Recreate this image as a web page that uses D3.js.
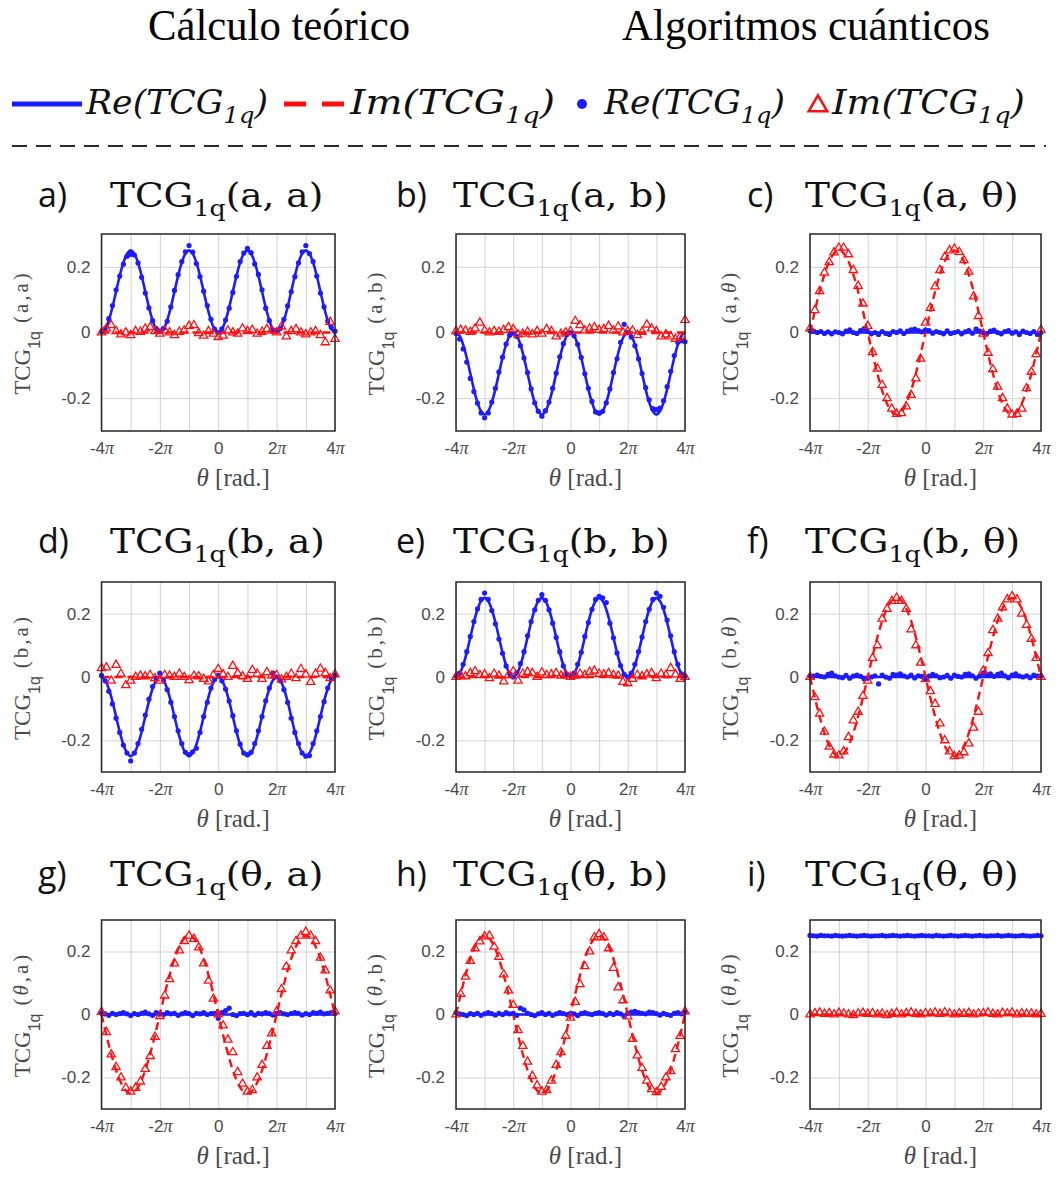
<!DOCTYPE html>
<html>
<head>
<meta charset="utf-8">
<script src="https://cdn.jsdelivr.net/npm/d3@7"></script>
<style>
  body { margin: 0; background: #fff; }
  svg { display: block; }
</style>
</head>
<body>
<svg id="chart" width="1060" height="1179"></svg>
<script>
// theta samples, in units of pi
const thetaFine = [-4, -3.875, -3.75, -3.625, -3.5, -3.375, -3.25, -3.125, -3, -2.875, -2.75, -2.625, -2.5,
  -2.375, -2.25, -2.125, -2, -1.875, -1.75, -1.625, -1.5, -1.375, -1.25, -1.125, -1, -0.875,
  -0.75, -0.625, -0.5, -0.375, -0.25, -0.125, 0, 0.125, 0.25, 0.375, 0.5, 0.625, 0.75,
  0.875, 1, 1.125, 1.25, 1.375, 1.5, 1.625, 1.75, 1.875, 2, 2.125, 2.25, 2.375, 2.5,
  2.625, 2.75, 2.875, 3, 3.125, 3.25, 3.375, 3.5, 3.625, 3.75, 3.875, 4]
const thetaCoarse = [-4, -3.833, -3.667, -3.5, -3.333, -3.167, -3, -2.833, -2.667, -2.5, -2.333, -2.167, -2,
  -1.833, -1.667, -1.5, -1.333, -1.167, -1, -0.833, -0.667, -0.5, -0.333, -0.167, 0,
  0.167, 0.333, 0.5, 0.667, 0.833, 1, 1.167, 1.333, 1.5, 1.667, 1.833, 2,
  2.167, 2.333, 2.5, 2.667, 2.833, 3, 3.167, 3.333, 3.5, 3.667, 3.833, 4]
const thetaEnds = [-4, 4]

const theoryHumpUp = [
  0, 0.01, 0.037, 0.077, 0.125, 0.173, 0.213, 0.24, 0.25, 0.24, 0.213, 0.173, 0.125, 0.077, 0.037, 0.01,
  0, 0.01, 0.037, 0.077, 0.125, 0.173, 0.213, 0.24, 0.25, 0.24, 0.213, 0.173, 0.125, 0.077, 0.037, 0.01,
  0, 0.01, 0.037, 0.077, 0.125, 0.173, 0.213, 0.24, 0.25, 0.24, 0.213, 0.173, 0.125, 0.077, 0.037, 0.01,
  0, 0.01, 0.037, 0.077, 0.125, 0.173, 0.213, 0.24, 0.25, 0.24, 0.213, 0.173, 0.125, 0.077, 0.037, 0.01,
  0]
const theoryHumpDown = [
  0, -0.01, -0.037, -0.077, -0.125, -0.173, -0.213, -0.24, -0.25, -0.24, -0.213, -0.173, -0.125, -0.077, -0.037, -0.01,
  0, -0.01, -0.037, -0.077, -0.125, -0.173, -0.213, -0.24, -0.25, -0.24, -0.213, -0.173, -0.125, -0.077, -0.037, -0.01,
  0, -0.01, -0.037, -0.077, -0.125, -0.173, -0.213, -0.24, -0.25, -0.24, -0.213, -0.173, -0.125, -0.077, -0.037, -0.01,
  0, -0.01, -0.037, -0.077, -0.125, -0.173, -0.213, -0.24, -0.25, -0.24, -0.213, -0.173, -0.125, -0.077, -0.037, -0.01,
  0]
const theoryWaveUp = [
  0, 0.049, 0.096, 0.139, 0.177, 0.208, 0.231, 0.245, 0.25, 0.245, 0.231, 0.208, 0.177, 0.139, 0.096, 0.049,
  0, -0.049, -0.096, -0.139, -0.177, -0.208, -0.231, -0.245, -0.25, -0.245, -0.231, -0.208, -0.177, -0.139, -0.096, -0.049,
  0, 0.049, 0.096, 0.139, 0.177, 0.208, 0.231, 0.245, 0.25, 0.245, 0.231, 0.208, 0.177, 0.139, 0.096, 0.049,
  0, -0.049, -0.096, -0.139, -0.177, -0.208, -0.231, -0.245, -0.25, -0.245, -0.231, -0.208, -0.177, -0.139, -0.096, -0.049,
  0]
const theoryWaveDown = [
  0, -0.049, -0.096, -0.139, -0.177, -0.208, -0.231, -0.245, -0.25, -0.245, -0.231, -0.208, -0.177, -0.139, -0.096, -0.049,
  0, 0.049, 0.096, 0.139, 0.177, 0.208, 0.231, 0.245, 0.25, 0.245, 0.231, 0.208, 0.177, 0.139, 0.096, 0.049,
  0, -0.049, -0.096, -0.139, -0.177, -0.208, -0.231, -0.245, -0.25, -0.245, -0.231, -0.208, -0.177, -0.139, -0.096, -0.049,
  0, 0.049, 0.096, 0.139, 0.177, 0.208, 0.231, 0.245, 0.25, 0.245, 0.231, 0.208, 0.177, 0.139, 0.096, 0.049,
  0]
const flatZero = [0, 0]
const flatQuarter = [0.25, 0.25]

// quantum algorithm results: Re (dots, thetaFine) and Im (triangles, thetaCoarse)
const qReA = [
  0.003, 0.012, 0.042, 0.082, 0.13, 0.172, 0.208, 0.232, 0.238, 0.236, 0.212, 0.168, 0.12, 0.075, 0.036, 0.012,
  0.004, 0.013, 0.034, 0.078, 0.128, 0.176, 0.216, 0.246, 0.265, 0.245, 0.21, 0.17, 0.126, 0.082, 0.04, 0.01,
  0.0, 0.011, 0.038, 0.074, 0.122, 0.171, 0.216, 0.242, 0.256, 0.243, 0.209, 0.177, 0.13, 0.074, 0.036, 0.008,
  0.006, 0.012, 0.04, 0.081, 0.124, 0.17, 0.212, 0.246, 0.265, 0.24, 0.216, 0.172, 0.12, 0.078, 0.035, 0.016,
  0.004]
const qImA = [
  0.0, 0.012, 0.022, 0.004, -0.006, 0.0, -0.008, 0.004, 0.002, 0.012, 0.016, 0.004, -0.004,
  0.006, 0.0, -0.008, 0.002, 0.006, 0.02, 0.022, -0.002, -0.01, 0.004, -0.004, -0.014,
  -0.01, 0.006, 0.0, -0.004, 0.012, 0.004, 0.008, -0.004, 0.002, 0.01, 0.006, 0.0,
  0.018, -0.012, 0.004, 0.01, 0.0, -0.006, 0.0, 0.004, -0.008, -0.03, 0.032, -0.02]

const qReB = [
  -0.003, -0.02, -0.05, -0.09, -0.14, -0.18, -0.215, -0.245, -0.26, -0.245, -0.212, -0.17, -0.12, -0.075, -0.035, -0.008,
  -0.002, -0.012, -0.04, -0.078, -0.122, -0.172, -0.214, -0.24, -0.255, -0.238, -0.212, -0.17, -0.124, -0.074, -0.034, -0.006,
  0.0, -0.01, -0.036, -0.076, -0.126, -0.17, -0.21, -0.242, -0.245, -0.24, -0.214, -0.172, -0.122, -0.08, -0.03, 0.025,
  0.0, -0.014, -0.04, -0.08, -0.125, -0.168, -0.205, -0.232, -0.235, -0.23, -0.208, -0.165, -0.118, -0.07, -0.03, -0.025,
  -0.028]
const qImB = [
  0.004, 0.008, 0.006, 0.002, 0.012, 0.03, 0.006, 0.0, 0.004, 0.002, 0.008, 0.016, 0.01,
  -0.006, -0.004, 0.002, -0.006, 0.004, -0.004, 0.01, 0.004, -0.012, -0.004, 0.0, 0.004,
  0.035, 0.022, 0.006, 0.012, 0.016, 0.008, 0.01, 0.02, 0.006, 0.018, 0.0, 0.004,
  0.006, -0.008, 0.002, 0.024, 0.012, 0.004, -0.012, -0.006, -0.012, -0.02, -0.014, 0.038]

const qReC = [
  0.005, 0.004, 0.0, 0.003, -0.003, 0.002, -0.004, 0.002, 0.0, -0.004, 0.004, 0.008, 0.0,
  -0.003, 0.006, 0.012, 0.003, -0.004, 0.0, -0.006, 0.003, -0.003, -0.006, 0.003, 0.0, 0.005,
  -0.003, 0.004, 0.008, 0.01, 0.006, 0.002, 0.008, 0.006, -0.002, 0.003, 0.0, -0.004, 0.005,
  -0.003, 0.0, 0.003, -0.004, 0.002, 0.006, -0.002, 0.01, 0.004, 0.0, -0.003, 0.004, 0.007,
  0.0, -0.004, 0.003, 0.006, -0.002, 0.002, -0.006, 0.004, 0.0, -0.003, 0.003, -0.006, 0.0]
const qImC = [
  0.012, 0.068, 0.126, 0.182, 0.214, 0.244, 0.258, 0.258, 0.238, 0.19, 0.142, 0.088, 0.02,
  -0.06, -0.11, -0.16, -0.2, -0.232, -0.248, -0.246, -0.225, -0.19, -0.14, -0.08, 0.03,
  0.075, 0.14, 0.19, 0.23, 0.25, 0.255, 0.245, 0.22, 0.185, 0.11, 0.05, -0.004,
  -0.062, -0.112, -0.165, -0.2, -0.232, -0.25, -0.248, -0.232, -0.17, -0.12, -0.066, 0.008]

const qReD = [
  0.005, -0.012, -0.045, -0.085, -0.13, -0.175, -0.215, -0.24, -0.265, -0.24, -0.21, -0.165, -0.12, -0.07, -0.03, -0.005,
  0.012, -0.01, -0.04, -0.08, -0.125, -0.17, -0.21, -0.238, -0.245, -0.236, -0.225, -0.175, -0.125, -0.08, -0.035, -0.008,
  0.005, -0.012, -0.038, -0.076, -0.122, -0.17, -0.212, -0.24, -0.245, -0.238, -0.21, -0.17, -0.125, -0.075, -0.035, 0.012,
  0.0, -0.012, -0.04, -0.08, -0.13, -0.175, -0.21, -0.24, -0.25, -0.248, -0.21, -0.17, -0.125, -0.078, -0.035, -0.005,
  0.005]
const qImD = [
  0.028, 0.03, -0.012, 0.038, 0.01, -0.026, -0.012, 0.0, 0.004, 0.002, 0.006, -0.004, -0.012,
  0.006, 0.004, 0.0, 0.01, 0.0, -0.01, 0.004, 0.002, -0.006, -0.014, 0.006, 0.025,
  0.008, 0.0, 0.035, 0.012, 0.002, -0.006, 0.022, 0.01, -0.006, 0.015, 0.004, 0.006,
  -0.008, 0.0, 0.01, -0.004, 0.025, 0.008, -0.016, 0.01, 0.026, 0.012, -0.004, 0.008]

const qReE = [
  0.003, 0.012, 0.04, 0.08, 0.128, 0.175, 0.215, 0.245, 0.265, 0.245, 0.21, 0.168, 0.12, 0.075, 0.035, 0.01,
  0.0, 0.014, 0.042, 0.08, 0.13, 0.175, 0.212, 0.242, 0.26, 0.242, 0.212, 0.17, 0.125, 0.08, 0.035, 0.008,
  0.002, 0.012, 0.04, 0.078, 0.128, 0.172, 0.214, 0.245, 0.255, 0.25, 0.235, 0.17, 0.124, 0.076, 0.036, 0.008,
  0.0, 0.012, 0.04, 0.08, 0.126, 0.175, 0.214, 0.245, 0.265, 0.255, 0.22, 0.18, 0.13, 0.08, 0.04, 0.01,
  0.002]
const qImE = [
  0.0, 0.004, 0.002, 0.012, 0.018, 0.006, 0.008, -0.004, 0.01, 0.004, -0.014, 0.006, 0.018,
  -0.012, 0.01, 0.016, 0.012, 0.0, 0.014, 0.006, 0.008, 0.012, 0.004, 0.008, 0.0,
  0.004, 0.01, 0.006, 0.016, 0.02, 0.01, 0.008, 0.012, 0.006, 0.004, -0.016, -0.02,
  -0.006, 0.006, 0.002, 0.008, 0.012, -0.004, 0.01, 0.006, 0.028, 0.008, -0.006, 0.0]

const qReF = [
  0.004, 0.003, 0.006, 0.002, 0.0, 0.008, 0.012, 0.004, 0.0, -0.002, 0.005, -0.004, 0.003,
  0.006, 0.002, -0.006, -0.004, 0.0, 0.004, -0.022, 0.006, 0.0, -0.004, 0.008, 0.006, 0.01,
  0.004, 0.0, 0.006, -0.003, 0.004, 0.002, -0.006, 0.003, 0.008, 0.004, -0.002, 0.0, 0.005,
  -0.004, 0.006, 0.002, 0.0, 0.008, 0.01, 0.004, -0.004, 0.003, 0.012, 0.006, 0.01, 0.002,
  0.008, 0.012, 0.004, -0.002, 0.006, 0.01, 0.003, 0.0, 0.004, -0.002, 0.006, 0.003, 0.004]
const qImF = [
  0.0, -0.064, -0.116, -0.173, -0.22, -0.245, -0.248, -0.235, -0.19, -0.137, -0.11, -0.06, -0.012,
  0.06, 0.1, 0.184, 0.215, 0.24, 0.25, 0.24, 0.215, 0.15, 0.1, 0.045, -0.007,
  -0.045, -0.085, -0.147, -0.2, -0.235, -0.25, -0.248, -0.238, -0.21, -0.16, -0.11, 0.02,
  0.075, 0.148, 0.184, 0.22, 0.245, 0.255, 0.245, 0.2, 0.164, 0.12, 0.06, 0.0]

const qReG = [
  0.004, 0.002, -0.003, 0.004, 0.0, 0.003, 0.006, 0.002, -0.004, 0.003, 0.0, 0.004, 0.008,
  0.002, -0.003, 0.006, 0.004, 0.0, 0.006, 0.002, 0.004, -0.003, 0.002, 0.006, 0.003, -0.004,
  0.004, 0.002, 0.006, 0.0, 0.003, 0.004, -0.012, 0.006, 0.012, 0.02, 0.0, -0.004, 0.003,
  0.004, 0.0, 0.006, -0.002, 0.004, 0.002, 0.006, 0.003, -0.002, 0.004, 0.006, 0.002, 0.0,
  0.003, 0.006, 0.004, -0.002, 0.003, 0.0, 0.006, 0.004, 0.008, 0.002, 0.004, 0.006, 0.003]
const qImG = [
  0.008, -0.056, -0.127, -0.167, -0.2, -0.233, -0.245, -0.233, -0.213, -0.173, -0.132, -0.071, -0.005,
  0.06, 0.112, 0.162, 0.203, 0.233, 0.25, 0.24, 0.213, 0.162, 0.107, 0.05, 0.0,
  -0.035, -0.08, -0.12, -0.183, -0.22, -0.245, -0.24, -0.2, -0.16, -0.1, -0.06, 0.01,
  0.08, 0.152, 0.203, 0.233, 0.25, 0.262, 0.25, 0.233, 0.18, 0.14, 0.076, 0.01]

const qReH = [
  0.006, 0.002, 0.0, -0.004, 0.003, 0.0, 0.004, -0.003, 0.002, 0.006, 0.003, -0.002, 0.004,
  0.0, 0.006, 0.002, 0.004, -0.003, 0.02, 0.015, 0.004, 0.0, -0.004, 0.002, 0.006, 0.0,
  0.004, -0.003, 0.002, 0.006, 0.003, 0.0, 0.004, 0.002, -0.004, 0.003, 0.006, 0.002, 0.0,
  0.004, 0.006, 0.003, -0.002, 0.004, 0.0, 0.006, 0.002, -0.006, 0.004, 0.008, 0.01, 0.006,
  0.004, 0.002, 0.008, 0.006, 0.003, -0.002, 0.004, 0.0, -0.003, 0.004, 0.006, 0.002, 0.008]
const qImH = [
  0.0, 0.065, 0.12, 0.17, 0.21, 0.232, 0.248, 0.25, 0.215, 0.183, 0.127, 0.076, 0.03,
  -0.05, -0.1, -0.15, -0.195, -0.225, -0.245, -0.24, -0.21, -0.16, -0.12, -0.068, -0.01,
  0.04, 0.096, 0.153, 0.2, 0.245, 0.255, 0.245, 0.21, 0.148, 0.086, 0.045, -0.006,
  -0.078, -0.13, -0.17, -0.21, -0.237, -0.247, -0.23, -0.2, -0.18, -0.11, -0.068, 0.01]

const qReI = [
  0.251, 0.25, 0.249, 0.251, 0.25, 0.25, 0.249, 0.251, 0.25, 0.249, 0.25, 0.251, 0.25,
  0.249, 0.25, 0.251, 0.25, 0.249, 0.25, 0.25, 0.251, 0.249, 0.25, 0.251, 0.25, 0.249,
  0.25, 0.251, 0.25, 0.249, 0.25, 0.251, 0.25, 0.25, 0.249, 0.251, 0.25, 0.249, 0.25,
  0.251, 0.25, 0.249, 0.25, 0.251, 0.25, 0.249, 0.25, 0.251, 0.25, 0.249, 0.25, 0.25,
  0.251, 0.249, 0.25, 0.251, 0.25, 0.249, 0.25, 0.251, 0.25, 0.249, 0.25, 0.251, 0.25]
const qImI = [
  0.0, 0.004, 0.006, 0.002, 0.004, 0.0, 0.005, 0.003, 0.0, -0.002, 0.003, 0.005, 0.002,
  0.004, 0.0, 0.003, -0.002, 0.002, 0.005, 0.0, 0.004, 0.006, 0.002, 0.0, 0.004,
  0.003, 0.006, 0.002, 0.007, 0.003, 0.0, 0.004, 0.002, 0.005, 0.0, 0.003, 0.004,
  0.006, 0.002, 0.0, 0.005, 0.003, 0.006, 0.0, 0.004, 0.002, 0.003, 0.0, 0.002]

// ticks
const xTickVals = [-4, -3, -2, -1, 0, 1, 2, 3, 4]
const xTickText = ["-4π", "", "-2π", "", "0", "", "2π", "", "4π"]
const yTickVals = [-0.2, 0, 0.2]
const yTickText = ["-0.2", "0", "0.2"]

// panel texts and which series goes where
const panelTags = ["a)", "b)", "c)", "d)", "e)", "f)", "g)", "h)", "i)"]
const panelArgs = [["a", "a"], ["a", "b"], ["a", "θ"], ["b", "a"], ["b", "b"], ["b", "θ"], ["θ", "a"], ["θ", "b"], ["θ", "θ"]]
const panelReTheory = ["humpUp", "humpDown", "zero", "humpDown", "humpUp", "zero", "zero", "zero", "quarter"]
const panelImTheory = ["zero", "zero", "waveUp", "zero", "zero", "waveDown", "waveDown", "waveUp", "zero"]
const panelQRe = [qReA, qReB, qReC, qReD, qReE, qReF, qReG, qReH, qReI]
const panelQIm = [qImA, qImB, qImC, qImD, qImE, qImF, qImG, qImH, qImI]

const curves = {
  humpUp: [thetaFine, theoryHumpUp],
  humpDown: [thetaFine, theoryHumpDown],
  waveUp: [thetaFine, theoryWaveUp],
  waveDown: [thetaFine, theoryWaveDown],
  zero: [thetaEnds, flatZero],
  quarter: [thetaEnds, flatQuarter]
}

// layout
const colBox = [[101.5, 335], [456, 685], [810, 1041]]
const rowBox = [[234, 431], [582, 772], [920, 1109]]
const colTagX = [38, 396, 747]
const colTitleX = [110, 453, 805]
const rowTitleY = [207, 553, 886]

const blue = "#1c1cff"
const red = "#ff1010"
const gridColor = "#d3d3d3"
const axisGrey = "#4a4a4a"

const svg = d3.select("#chart")

// squeeze / stretch a text horizontally so it spans `len` pixels from x
function fitWidth(t, x, len) {
  const w = t.node().getComputedTextLength()
  t.attr("transform", `translate(${x},0) scale(${len / w},1) translate(${-x},0)`)
}

// ---- header ----
svg.append("text")
  .attr("x", 148).attr("y", 40)
  .attr("font-family", "Liberation Serif").attr("font-size", 44)
  .attr("textLength", 262).attr("lengthAdjust", "spacingAndGlyphs")
  .text("Cálculo teórico")
svg.append("text")
  .attr("x", 622).attr("y", 40)
  .attr("font-family", "Liberation Serif").attr("font-size", 44)
  .attr("textLength", 368).attr("lengthAdjust", "spacingAndGlyphs")
  .text("Algoritmos cuánticos")

const legY = 104
function legendText(x, part, len) {
  const t = svg.append("text")
    .attr("x", x).attr("y", legY + 10)
    .attr("font-family", "DejaVu Serif").attr("font-style", "italic")
    .attr("font-size", 33).attr("fill", "#111")
  t.append("tspan").text(part + "(TCG")
  t.append("tspan").attr("font-size", 23).attr("dy", 9).text("1q")
  t.append("tspan").attr("dy", -9).text(")")
  fitWidth(t, x, len)
}

svg.append("line")
  .attr("x1", 12).attr("x2", 82).attr("y1", legY).attr("y2", legY)
  .attr("stroke", blue).attr("stroke-width", 5)
legendText(86, "Re", 182)
svg.append("line")
  .attr("x1", 284).attr("x2", 344).attr("y1", legY).attr("y2", legY)
  .attr("stroke", red).attr("stroke-width", 5).attr("stroke-dasharray", "22 16")
legendText(350, "Im", 205)
svg.append("circle")
  .attr("cx", 582).attr("cy", legY).attr("r", 5).attr("fill", blue)
legendText(604, "Re", 181)
svg.append("path")
  .attr("d", d3.symbol(d3.symbolTriangle, 150)())
  .attr("transform", `translate(818,${legY + 2})`)
  .attr("fill", "none").attr("stroke", red).attr("stroke-width", 2.5)
legendText(832, "Im", 193)

svg.append("line")
  .attr("x1", 12).attr("x2", 1046).attr("y1", 146).attr("y2", 146)
  .attr("stroke", "#2b2b2b").attr("stroke-width", 2).attr("stroke-dasharray", "15 9")

// ---- panels ----
const triangle = d3.symbol(d3.symbolTriangle, 30)()

panelTags.forEach((tag, i) => {
  const c = i % 3, r = Math.floor(i / 3)
  const [x0, x1] = colBox[c]
  const [y0, y1] = rowBox[r]
  const x = d3.scaleLinear().domain([-4, 4]).range([x0, x1])
  const y = d3.scaleLinear().domain([-0.3, 0.3]).range([y1, y0])
  const g = svg.append("g")

  // grid + x tick labels
  const gx = g.append("g")
    .attr("transform", `translate(0,${y1})`)
    .call(d3.axisBottom(x).tickValues(xTickVals).tickSize(-(y1 - y0)).tickPadding(11).tickFormat(""))
  gx.select(".domain").remove()
  gx.selectAll(".tick line").attr("stroke", gridColor)
  gx.selectAll(".tick text").each(function (d, k) {
    const lbl = xTickText[k]
    const t = d3.select(this).attr("fill", axisGrey).attr("font-size", 17)
      .attr("font-family", "Liberation Sans")
    if (lbl.endsWith("π")) {
      t.append("tspan").text(lbl.slice(0, -1))
      t.append("tspan").attr("font-family", "Liberation Serif").attr("font-style", "italic")
        .attr("font-size", 18).text("π")
    } else {
      t.text(lbl)
    }
  })

  // grid + y tick labels
  const gy = g.append("g")
    .attr("transform", `translate(${x0},0)`)
    .call(d3.axisLeft(y).tickValues(yTickVals).tickSize(-(x1 - x0)).tickPadding(11)
      .tickFormat((d, k) => yTickText[k]))
  gy.select(".domain").remove()
  gy.selectAll(".tick line").attr("stroke", gridColor)
  gy.selectAll(".tick text").attr("fill", axisGrey).attr("font-size", 17)
    .attr("font-family", "Liberation Sans")

  // theory lines
  const line = d3.line().curve(d3.curveCatmullRom.alpha(0.5))
  const reC = curves[panelReTheory[i]]
  const imC = curves[panelImTheory[i]]
  g.append("path")
    .attr("d", line(reC[0].map((t, k) => [x(t), y(reC[1][k])])))
    .attr("fill", "none").attr("stroke", blue).attr("stroke-width", 2.6)
  g.append("path")
    .attr("d", line(imC[0].map((t, k) => [x(t), y(imC[1][k])])))
    .attr("fill", "none").attr("stroke", red).attr("stroke-width", 2.4)
    .attr("stroke-dasharray", "8 5")

  // quantum results
  g.append("g").selectAll("circle")
    .data(panelQRe[i].map((v, k) => [thetaFine[k], v]))
    .join("circle")
    .attr("cx", d => x(d[0])).attr("cy", d => y(d[1]))
    .attr("r", 2.6).attr("fill", blue)
  g.append("g").selectAll("path")
    .data(panelQIm[i].map((v, k) => [thetaCoarse[k], v]))
    .join("path")
    .attr("d", triangle)
    .attr("transform", d => `translate(${x(d[0])},${y(d[1])})`)
    .attr("fill", "none").attr("stroke", red).attr("stroke-width", 1.3)

  // box
  g.append("rect")
    .attr("x", x0).attr("y", y0).attr("width", x1 - x0).attr("height", y1 - y0)
    .attr("fill", "none").attr("stroke", "#262626").attr("stroke-width", 1.5)

  // x label
  const xl = g.append("text")
    .attr("x", (x0 + x1) / 2 + 15).attr("y", y1 + 55)
    .attr("text-anchor", "middle").attr("fill", axisGrey)
    .attr("font-family", "Liberation Serif").attr("font-size", 25)
  xl.append("tspan").attr("font-style", "italic").text("θ")
  xl.append("tspan").text(" [rad.]")

  // y label
  const [a1, a2] = panelArgs[i]
  const yl = g.append("text")
    .attr("transform", `translate(${x0 - 72},${(y0 + y1) / 2}) rotate(-90)`)
    .attr("text-anchor", "middle").attr("fill", axisGrey)
    .attr("font-family", "Liberation Serif").attr("font-size", 23)
  yl.append("tspan").text("TCG")
  yl.append("tspan").attr("font-family", "Liberation Sans").attr("font-size", 16).attr("dy", 10).text("1q")
  const sup = yl.append("tspan").attr("dy", -12).attr("dx", 8).attr("font-size", 21)
    .attr("letter-spacing", 3)
  sup.append("tspan").text("(")
  sup.append("tspan").attr("font-style", a1 === "θ" ? "italic" : "normal").text(a1)
  sup.append("tspan").text(",")
  sup.append("tspan").attr("font-style", a2 === "θ" ? "italic" : "normal").text(a2)
  sup.append("tspan").text(")")

  // titles
  svg.append("text")
    .attr("x", colTagX[c]).attr("y", rowTitleY[r])
    .attr("font-family", "Open Sans").attr("font-size", 34).attr("fill", "#111")
    .text(tag)
  const tt = svg.append("text")
    .attr("x", colTitleX[c]).attr("y", rowTitleY[r])
    .attr("font-family", "DejaVu Serif").attr("font-size", 34).attr("fill", "#111")
  tt.append("tspan").text("TCG")
  tt.append("tspan").attr("font-size", 23).attr("dy", 9).text("1q")
  tt.append("tspan").attr("dy", -9).text(`(${a1}, ${a2})`)
  tt.attr("transform", `translate(${colTitleX[c]},0) scale(1.1,1) translate(${-colTitleX[c]},0)`)
})
</script>
</body>
</html>
